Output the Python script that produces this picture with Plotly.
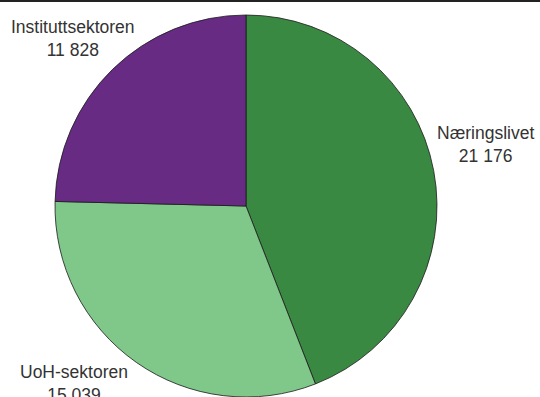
import plotly.graph_objects as go

labels = ["Næringslivet", "UoH-sektoren", "Instituttsektoren"]
values = [21176, 15039, 11828]
colors = ["#3a8943", "#80c88a", "#682b84"]

W, H = 540, 397

def fmt(v):
    return f"{v:,}".replace(",", " ")

fig = go.Figure(go.Pie(
    labels=labels, values=values, sort=False, direction="clockwise", rotation=0,
    marker=dict(colors=colors, line=dict(color="#1a1a1a", width=0.8)),
    textinfo="none", hoverinfo="label+value", showlegend=False,
    domain=dict(x=[55 / W, 437 / W], y=[0, (H - 15) / H]),
))

label_pos = {  # pixel centers (x, y from top)
    "Næringslivet": (485, 144),
    "UoH-sektoren": (74, 383),
    "Instituttsektoren": (73, 39),
}
for lab, val in zip(labels, values):
    px, py = label_pos[lab]
    fig.add_annotation(
        x=px / W, y=1 - py / H, xref="paper", yref="paper",
        text=f"{lab}<br>{fmt(val)}", showarrow=False,
        xanchor="center", yanchor="middle", align="center",
        font=dict(family="Liberation Sans, Arial, sans-serif", size=17.5, color="#333333"),
    )

fig.add_shape(type="line", xref="paper", yref="paper", x0=0, x1=1, y0=1 - 1 / H, y1=1 - 1 / H,
              line=dict(color="#222222", width=2))

fig.update_layout(
    width=W, height=H, margin=dict(l=0, r=0, t=0, b=0),
    paper_bgcolor="white", plot_bgcolor="white",
)
fig.write_html("out.html")
